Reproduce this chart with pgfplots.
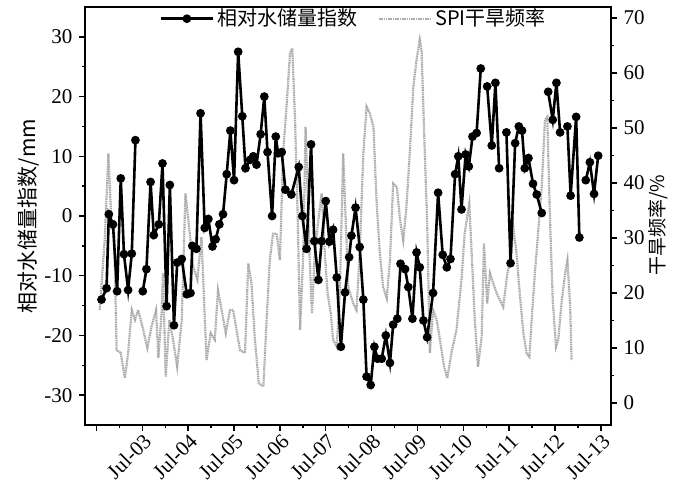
\documentclass[border=0pt]{standalone}
\usepackage{fontspec}
\setmainfont{Liberation Serif}
\newfontfamily\cjk{Noto Sans CJK SC}
\usepackage{pgfplots}
\pgfplotsset{compat=1.18}
\usepackage{pgfplotstable}

\pgfplotstableread{
x y
2002.61 -14.0
2002.72 -12.1
2002.77 0.3
2002.86 -1.4
2002.95 -12.6
2003.03 6.3
2003.10 -6.4
2003.19 -12.4
2003.27 -6.3
2003.35 12.7
2003.43 nan
2003.51 -12.6
2003.59 -8.9
2003.68 5.7
2003.75 -3.2
2003.86 -1.4
2003.94 8.8
2004.03 -15.1
2004.10 5.2
2004.19 -18.3
2004.26 -7.8
2004.36 -7.2
2004.47 -13.1
2004.55 -12.9
2004.59 -5.0
2004.68 -5.5
2004.77 17.2
2004.86 -2.0
2004.94 -0.5
2005.03 -5.1
2005.10 -3.9
2005.18 -1.4
2005.26 0.3
2005.34 7.0
2005.42 14.3
2005.50 6.0
2005.59 27.5
2005.68 16.7
2005.75 8.0
2005.85 9.4
2005.92 10.0
2005.99 8.6
2006.08 13.7
2006.16 20.0
2006.23 10.7
2006.33 0.0
2006.41 13.3
2006.46 10.5
2006.54 10.7
2006.62 4.4
2006.75 3.6
2006.91 8.2
2006.99 0.0
2007.08 -5.5
2007.18 12.0
2007.25 -4.2
2007.34 -10.7
2007.41 -4.2
2007.50 2.5
2007.58 -4.3
2007.66 -2.3
2007.74 -10.3
2007.83 -21.9
2007.92 -12.8
2008.01 -6.9
2008.06 -3.3
2008.15 1.4
2008.24 -5.2
2008.32 -14.0
2008.39 -26.9
2008.48 -28.3
2008.56 -21.9
2008.63 -23.9
2008.72 -23.9
2008.81 -20.0
2008.90 -24.6
2008.97 -18.2
2009.06 -17.2
2009.13 -8.0
2009.23 -8.9
2009.30 -11.9
2009.39 -17.2
2009.48 -6.1
2009.55 -8.6
2009.63 -17.5
2009.71 -20.3
2009.84 -12.9
2009.95 3.9
2010.05 -6.5
2010.14 -8.6
2010.22 -7.2
2010.32 7.0
2010.39 10.0
2010.46 1.1
2010.55 10.3
2010.62 8.3
2010.70 13.3
2010.79 13.9
2010.88 24.7
2010.95 nan
2011.02 21.7
2011.12 11.8
2011.20 22.3
2011.28 8.0
2011.36 nan
2011.44 14.0
2011.53 -7.9
2011.63 12.2
2011.71 15.0
2011.78 14.3
2011.84 8.0
2011.92 9.7
2012.02 5.4
2012.10 3.6
2012.21 0.5
2012.28 nan
2012.35 20.8
2012.45 16.1
2012.53 22.3
2012.61 14.0
2012.69 nan
2012.77 15.0
2012.84 3.4
2012.96 16.6
2013.03 -3.6
2013.10 nan
2013.17 6.0
2013.26 9.0
2013.35 3.7
2013.44 10.1
}\tws

\pgfplotstableread{
x y
2002.57 16.9
2002.68 29.6
2002.76 45.4
2002.83 32.0
2002.88 32.7
2002.94 9.6
2003.03 9.1
2003.12 4.5
2003.19 9.1
2003.27 16.9
2003.34 15.1
2003.41 16.9
2003.52 13.3
2003.61 10.0
2003.70 13.9
2003.80 16.9
2003.85 8.2
2003.92 16.4
2003.95 23.6
2004.01 4.8
2004.09 15.1
2004.17 11.5
2004.26 6.6
2004.36 15.1
2004.44 38.1
2004.52 32.0
2004.61 24.8
2004.70 22.4
2004.79 30.2
2004.90 7.8
2004.99 12.7
2005.08 11.5
2005.15 20.5
2005.24 16.4
2005.32 12.7
2005.41 16.9
2005.48 16.9
2005.63 9.6
2005.74 9.1
2005.81 25.4
2005.88 21.8
2005.95 12.1
2006.04 3.6
2006.14 3.0
2006.21 15.1
2006.28 26.0
2006.35 30.8
2006.43 30.8
2006.50 26.0
2006.57 45.4
2006.65 54.5
2006.72 63.6
2006.77 64.5
2006.83 51.5
2006.89 33.3
2006.94 13.3
2007.01 27.2
2007.06 50.2
2007.15 26.0
2007.20 16.3
2007.26 27.2
2007.34 33.3
2007.41 38.1
2007.48 27.2
2007.54 19.9
2007.61 16.3
2007.66 11.5
2007.74 10.2
2007.81 21.1
2007.88 45.4
2007.99 21.1
2008.10 18.1
2008.17 16.9
2008.24 27.2
2008.32 45.4
2008.39 53.9
2008.46 52.7
2008.54 50.2
2008.61 36.3
2008.68 27.2
2008.75 21.1
2008.83 19.0
2008.90 26.0
2008.97 39.9
2009.05 39.3
2009.12 33.3
2009.19 29.6
2009.26 35.7
2009.34 46.6
2009.41 57.5
2009.48 62.4
2009.55 66.0
2009.59 64.0
2009.66 45.4
2009.71 33.3
2009.77 9.1
2009.84 16.9
2009.92 15.1
2009.99 11.5
2010.08 6.6
2010.15 4.5
2010.24 9.1
2010.35 13.3
2010.46 22.4
2010.53 30.9
2010.63 36.3
2010.75 15.1
2010.82 6.6
2010.90 12.1
2010.95 29.0
2011.02 18.1
2011.08 23.6
2011.15 21.8
2011.23 19.9
2011.30 18.7
2011.37 17.5
2011.46 23.6
2011.53 26.0
2011.59 32.0
2011.66 27.2
2011.73 19.9
2011.81 12.7
2011.88 9.0
2011.94 8.4
2011.99 15.1
2012.06 23.6
2012.13 30.9
2012.21 39.3
2012.28 51.5
2012.33 52.0
2012.39 33.3
2012.45 18.7
2012.52 10.2
2012.57 11.5
2012.64 18.1
2012.72 23.6
2012.77 26.0
2012.83 17.5
2012.86 7.8
}\spi

\begin{document}
\begin{tikzpicture}
\pgfplotsset{
  common/.style={
    width=263pt, height=209pt, scale only axis,
    xmin=2002.25, xmax=2013.72,
    tick align=outside,
    major tick length=2.8pt, minor tick length=1.6pt,
    every tick/.style={black, line width=0.7pt},
    /pgf/number format/assume math mode=true,
    ticklabel style={font=\fontsize{10.5}{12}\selectfont},
  }
}
% right axis: SPI drought frequency
\begin{axis}[common, name=axr,
  axis x line=none, axis y line*=right,
  axis line style={line width=0.8pt},
  ymin=-4, ymax=72,
  ytick={0,10,...,70}, minor ytick={5,15,...,65},
  ylabel={\cjk 干旱频率/\%},
  ylabel style={font=\fontsize{9.5}{11}\selectfont, at={(axis description cs:1.09,0.478)}, anchor=center},
]
\addplot[gray!65, line width=1.1pt, dash pattern=on 0.8pt off 0.35pt] table[x=x,y=y]{\spi};
\end{axis}
% left axis: relative water storage
\begin{axis}[common, name=axl,
  axis line style={line width=0.8pt},
  tick pos=left,
  ymin=-35, ymax=35,
  ytick={-30,-20,...,30}, minor ytick={-25,-15,...,25},
  xtick={2002.5,2003.5,...,2013.5},
  xticklabels={,Jul-03,Jul-04,Jul-05,Jul-06,Jul-07,Jul-08,Jul-09,Jul-10,Jul-11,Jul-12,Jul-13},
  minor xtick={2003,2004,...,2013},
  xticklabel style={rotate=45, anchor=north east, inner sep=0.5pt, font=\fontsize{10.5}{12}\selectfont},
  ylabel={\cjk 相对水储量指数/mm},
  ylabel style={font=\fontsize{10.5}{12}\selectfont, at={(axis description cs:-0.108,0.5)}, anchor=center},
  unbounded coords=jump,
  legend style={at={(axis description cs:0.513,0.972)}, anchor=center, draw=none, fill=none,
    font=\cjk\fontsize{10}{12}\selectfont, legend columns=2,
    /tikz/every even column/.append style={column sep=8pt}},
  legend image code/.code={\draw[mark repeat=2,mark phase=2,#1] plot coordinates {(0cm,0cm) (0.45cm,0cm) (0.9cm,0cm)};},
]
\addplot[black, line width=1.3pt, mark=*, mark size=1.5pt] table[x=x,y=y]{\tws};
\addlegendentry{相对水储量指数}
\addlegendimage{gray!65, line width=1.1pt, dash pattern=on 0.8pt off 0.35pt}
\addlegendentry{SPI干旱频率}
\end{axis}
\path ([xshift=-42.5pt,yshift=-31.5pt]axl.south west) rectangle ([xshift=33pt,yshift=3.5pt]axl.north east);
\end{tikzpicture}
\end{document}
